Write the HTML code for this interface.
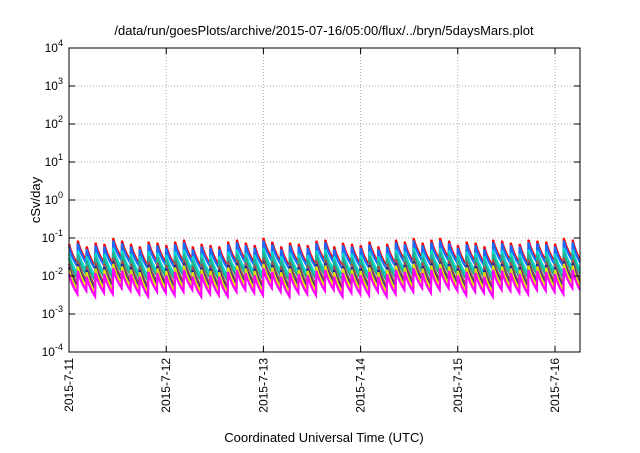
<!DOCTYPE html>
<html><head><meta charset="utf-8"><style>
body{margin:0;background:#fff}
svg text{font-family:"Liberation Sans",sans-serif;fill:#000}
</style></head><body>
<svg id="c" width="640" height="448">
<text x="324" y="35" font-size="13" text-anchor="middle">/data/run/goesPlots/archive/2015-07-16/05:00/flux/../bryn/5daysMars.plot</text>
<text x="0" y="0" font-size="13" text-anchor="middle" transform="translate(40,200) rotate(-90)">cSv/day</text>
<text x="324" y="442" font-size="13" text-anchor="middle">Coordinated Universal Time (UTC)</text>
<g id="grid"></g><g id="series"></g><g id="axes"></g>
</svg>
<script>
const yExps=[-4,-3,-2,-1,0,1,2,3,4];
const dayLabels=["2015-7-11","2015-7-12","2015-7-13","2015-7-14","2015-7-15","2015-7-16"];
const peaks=[0.07,0.085,0.06,0.075,0.07,0.1,0.085,0.07,0.06,0.08,0.075,0.065,0.08,0.09,0.06,0.07,0.065,0.06,0.08,0.09,0.075,0.065,0.1,0.08,0.06,0.075,0.07,0.065,0.085,0.09,0.06,0.075,0.07,0.065,0.08,0.06,0.07,0.09,0.08,0.1,0.075,0.09,0.1,0.085,0.065,0.08,0.075,0.06,0.09,0.085,0.075,0.07,0.09,0.085,0.08,0.07,0.1,0.09];
const ratios=[1,0.85,0.55,0.42,0.3,0.24,0.21,0.16];
const colors=["#ff0000","#1a6bff","#00d8d0","#20b090","#a05050","#2020a0","#e0e000","#ff00ff"];
const troughFactor=0.3;
const cyclesPerDay=11;
const L=69,R=580,T=48,B=352,dayPx=97.2,xMaxDays=(R-L)/dayPx;
const X=d=>L+d*dayPx;
const Y=v=>B-(Math.log10(v)+4)*(B-T)/8;
const ns="http://www.w3.org/2000/svg";
function mk(t,a,p){const e=document.createElementNS(ns,t);for(const k in a)e.setAttribute(k,a[k]);p.appendChild(e);return e;}
const grid=document.getElementById('grid'),axes=document.getElementById('axes'),ser=document.getElementById('series');
yExps.forEach(e=>{const y=Y(Math.pow(10,e));
 if(e>-4&&e<4){const g=mk('line',{x1:L,x2:R,y1:y,y2:y,stroke:'#aaa','stroke-dasharray':'1,2'},grid);
 
 }
 mk('line',{x1:L,x2:L+6,y1:y,y2:y,stroke:'#000'},axes);
 mk('line',{x1:R,x2:R-6,y1:y,y2:y,stroke:'#000'},axes);
 const t=mk('text',{x:L-6,y:y+4,'font-size':12,'text-anchor':'end'},axes);
 
 
 t.innerHTML='10<tspan dy="-6" font-size="9">'+e+'</tspan>';
});
dayLabels.forEach((lab,i)=>{const x=X(i);
 if(i>0){const g=mk('line',{x1:x,x2:x,y1:T,y2:B,stroke:'#aaa','stroke-dasharray':'1,2'},grid);
 
 }
 mk('line',{x1:x,x2:x,y1:B,y2:B-6,stroke:'#000'},axes);
 mk('line',{x1:x,x2:x,y1:T,y2:T+6,stroke:'#000'},axes);
 const t=mk('text',{x:0,y:0,'font-size':12,'text-anchor':'end',transform:`translate(${x+4},${B+6}) rotate(-90)`},axes);
 
 
 t.textContent=lab;
});
const frame=mk('rect',{x:L,y:T,width:R-L,height:B-T,fill:'none',stroke:'#000'},axes);


ratios.forEach((r,s)=>{let d='';const cl=1/cyclesPerDay;
 peaks.forEach((p,i)=>{const t0=i*cl;if(t0>xMaxDays)return;
  const t1=Math.min((i+1)*cl-0.004,xMaxDays);
  const pk=p*r,tr=p*r*troughFactor;
  const tm=t0+(t1-t0)*0.3,vm=pk*Math.pow(troughFactor,0.5);
  d+=(i?'L':'M')+X(t0).toFixed(1)+','+Y(pk).toFixed(1)+'Q'+X(tm).toFixed(1)+','+Y(vm*0.95).toFixed(1)+' '+X(t1).toFixed(1)+','+Y(tr).toFixed(1);
 });
 const p=mk('path',{d:d,fill:'none',stroke:colors[s],'stroke-width':2.2},ser);
 
 
});
</script>
</body></html>
